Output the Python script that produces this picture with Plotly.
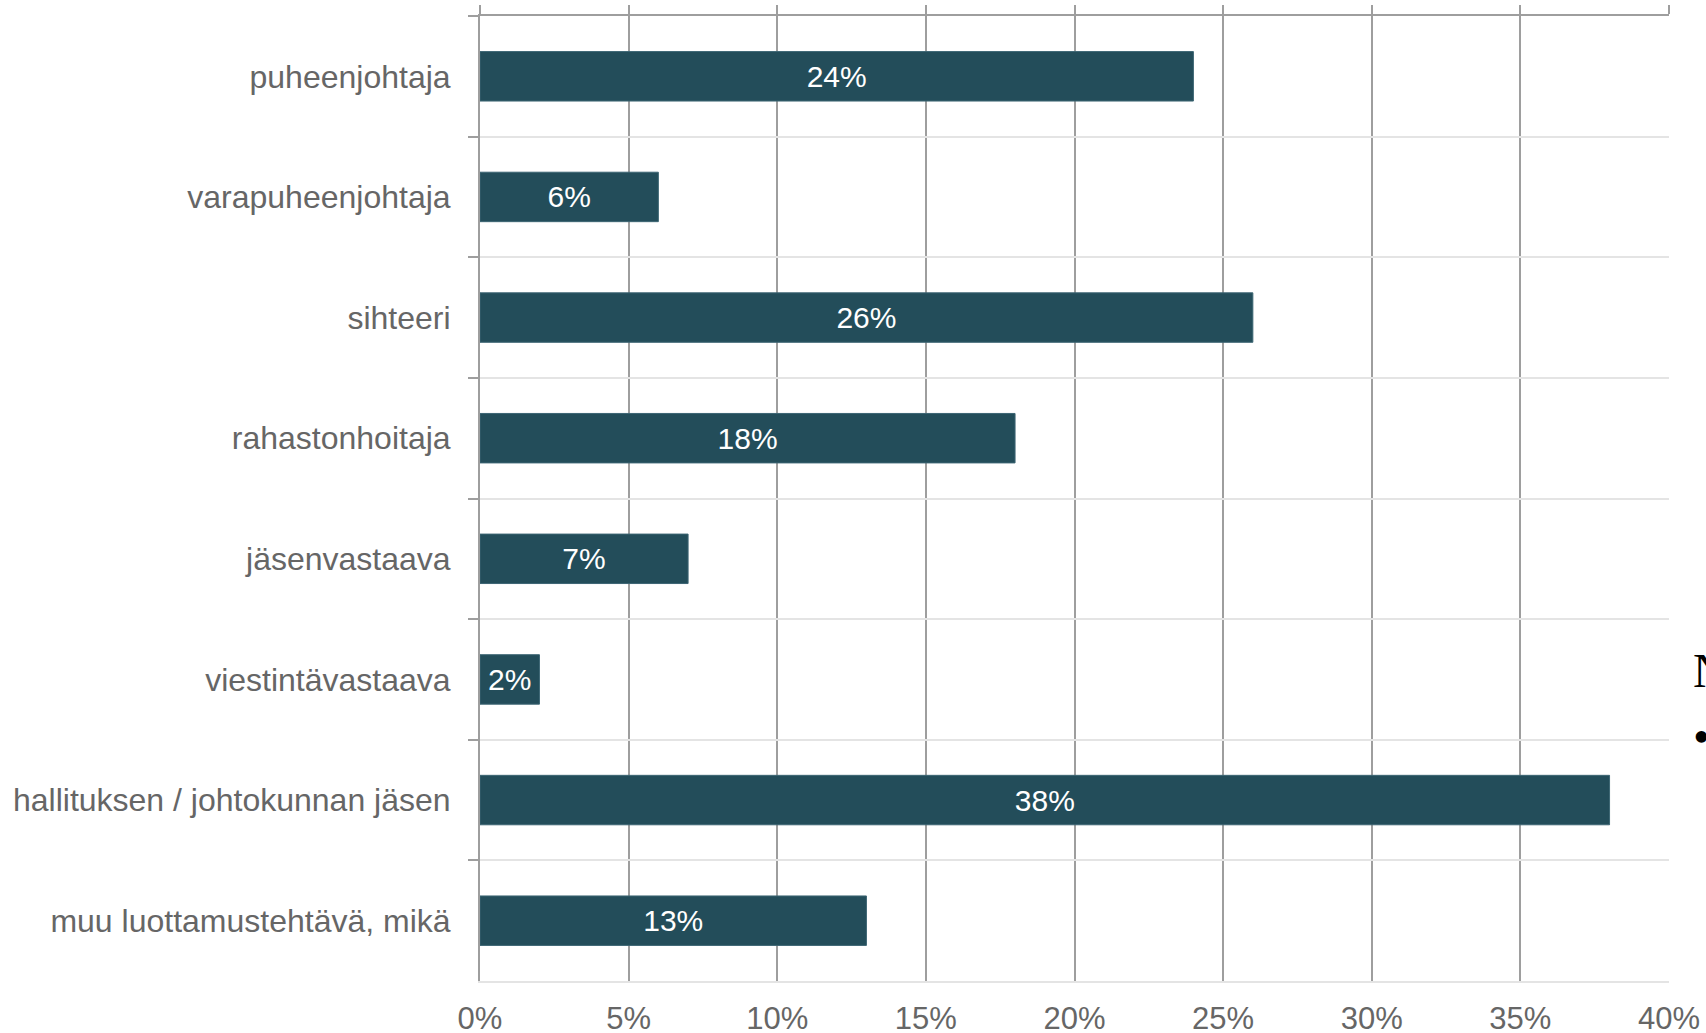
import plotly.graph_objects as go

categories = [
    "puheenjohtaja",
    "varapuheenjohtaja",
    "sihteeri",
    "rahastonhoitaja",
    "jäsenvastaava",
    "viestintävastaava",
    "hallituksen / johtokunnan jäsen",
    "muu luottamustehtävä, mikä",
]
values = [24, 6, 26, 18, 7, 2, 38, 13]
value_labels = [f"{v}%" for v in values]
x_ticks = [0, 5, 10, 15, 20, 25, 30, 35, 40]
x_tick_labels = [f"{t}%" for t in x_ticks]

BAR = "#234D5A"
GRAY_TXT = "#666666"
VGRID = "#9E9E9E"
HGRID = "#E4E4E4"
FONT = "Liberation Sans, Arial, sans-serif"

fig = go.Figure()
fig.add_trace(go.Bar(
    y=categories,
    x=values,
    orientation="h",
    width=0.41,
    marker=dict(color=BAR, line=dict(color="#3C6573", width=1)),
    text=value_labels,
    textposition="inside",
    insidetextanchor="middle",
    constraintext="none",
    textfont=dict(color="white", size=30, family=FONT),
    hoverinfo="skip",
))
# invisible trace for the top axis (tick marks above plot)
fig.add_trace(go.Bar(y=categories, x=[None] * len(categories), orientation="h",
                     xaxis="x2", showlegend=False, hoverinfo="skip"))

fig.update_layout(
    width=1706,
    height=1033,
    autosize=False,
    paper_bgcolor="white",
    plot_bgcolor="white",
    showlegend=False,
    margin=dict(l=480, r=37, t=16, b=52, autoexpand=False),
    font=dict(family=FONT, color=GRAY_TXT),
    xaxis=dict(
        range=[0, 40],
        tickvals=x_ticks,
        ticktext=x_tick_labels,
        showgrid=True,
        gridcolor=VGRID,
        gridwidth=1.5,
        zeroline=False,
        showline=True,
        linecolor=HGRID,
        linewidth=2,
        ticks="",
        tickfont=dict(size=31, color=GRAY_TXT, family=FONT),
        ticklabelstandoff=9,
        automargin=False,
        fixedrange=True,
    ),
    xaxis2=dict(
        overlaying="x",
        side="top",
        range=[0, 40],
        tickvals=x_ticks,
        showticklabels=False,
        showgrid=False,
        zeroline=False,
        showline=True,
        linecolor=VGRID,
        linewidth=1.5,
        ticks="outside",
        ticklen=9,
        tickwidth=1.5,
        tickcolor=VGRID,
        automargin=False,
    ),
    yaxis=dict(
        type="category",
        categoryorder="array",
        categoryarray=categories,
        autorange="reversed",
        tickson="boundaries",
        showgrid=True,
        gridcolor=HGRID,
        gridwidth=2,
        ticks="outside",
        ticklen=10,
        tickwidth=1.5,
        tickcolor=VGRID,
        showline=True,
        linecolor=VGRID,
        linewidth=2,
        tickfont=dict(size=32, color=GRAY_TXT, family=FONT),
        ticklabelstandoff=21,
        zeroline=False,
        automargin=False,
    ),
    annotations=[
        dict(text="N", xref="paper", yref="paper", x=1.0185, y=0.322,
             xanchor="left", yanchor="middle", showarrow=False,
             font=dict(family="Liberation Serif, Times New Roman, serif", size=48, color="black")),
        dict(text="•", xref="paper", yref="paper", x=1.0185, y=0.253,
             xanchor="left", yanchor="middle", showarrow=False,
             font=dict(family="Liberation Serif, Times New Roman, serif", size=48, color="black")),
    ],
)

fig.write_html(
    "out.html",
    config={"displayModeBar": False, "responsive": False},
    post_script="document.body.style.margin='0';document.body.style.overflow='hidden';",
)
